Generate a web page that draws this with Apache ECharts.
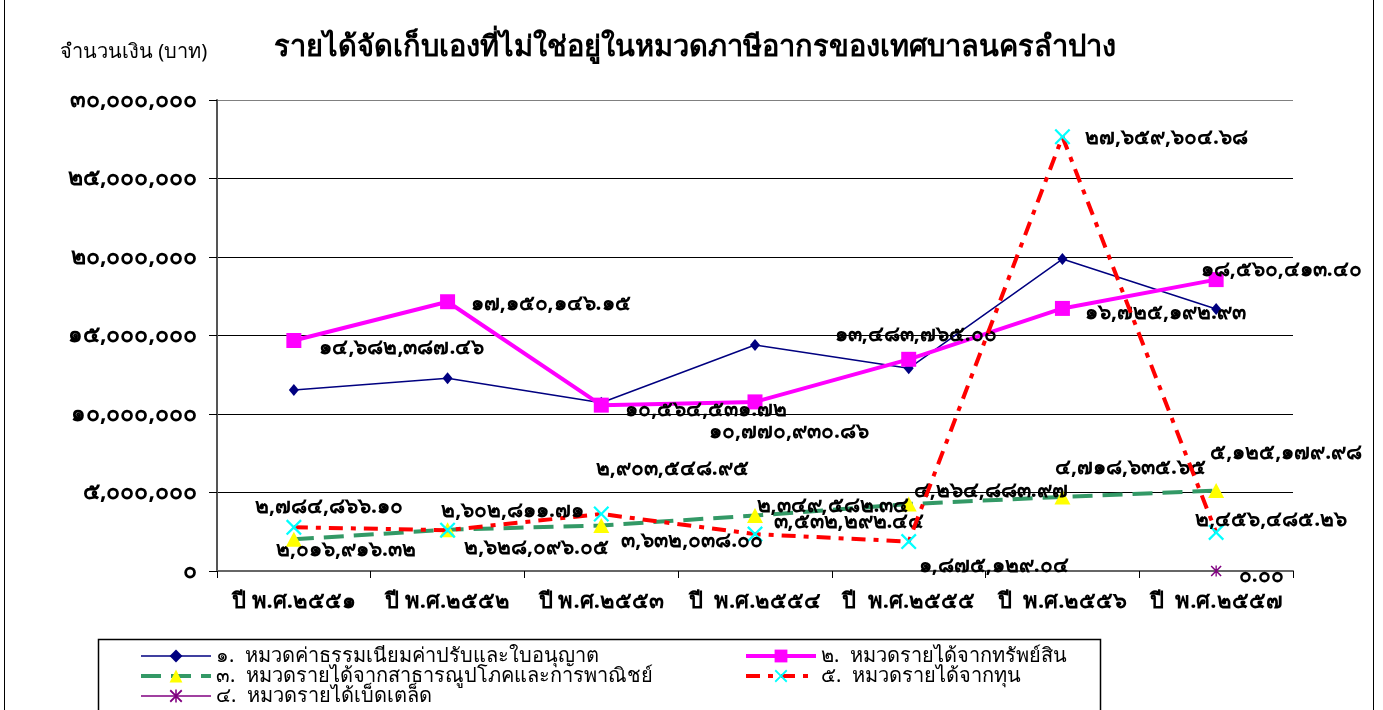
<!DOCTYPE html>
<html>
<head>
<meta charset="utf-8">
<script src="https://cdn.jsdelivr.net/npm/echarts@6/dist/echarts.min.js"></script>
<style>
  html, body { margin: 0; padding: 0; background: #fff; }
  #chart { width: 1383px; height: 710px; }
</style>
</head>
<body>
<div id="chart"></div>
<script>
// ข้อมูล
const years = ['ปี พ.ศ.๒๕๕๑', 'ปี พ.ศ.๒๕๕๒', 'ปี พ.ศ.๒๕๕๓', 'ปี  พ.ศ.๒๕๕๔', 'ปี  พ.ศ.๒๕๕๕', 'ปี  พ.ศ.๒๕๕๖', 'ปี  พ.ศ.๒๕๕๗'];
const feeValues = [11530000, 12270000, 10720000, 14390000, 12910000, 19870000, 16690000];
const propertyValues = [14682387.46, 17150146.15, 10564531.72, 10770930.86, 13483765.00, 16725192.93, 18560413.40];
const utilityValues = [2016916.32, 2628096.05, 2903548.95, 3532292.44, 4264883.97, 4718635.65, 5125179.98];
const miscValues = [null, null, null, null, null, null, 0.00];
const capitalValues = [2784866.10, 2602811.71, 3632038.00, 2349582.34, 1875129.04, 27659604.68, 2456485.26];
const seriesNames = [
  '๑.  หมวดค่าธรรมเนียมค่าปรับและใบอนุญาต',
  '๒.  หมวดรายได้จากทรัพย์สิน',
  '๓.  หมวดรายได้จากสาธารณูปโภคและการพาณิชย์',
  '๔.  หมวดรายได้เบ็ดเตล็ด',
  '๕.  หมวดรายได้จากทุน'
];
const yTicks = [0, 5000000, 10000000, 15000000, 20000000, 25000000, 30000000];

// ตำแหน่งป้ายข้อมูล (dx, dy จากจุด)
const propertyLabelPos = [[108, 8], [103, 2], [105, 5], [34, 30], [7, -24], [103, 5], [65, -10]];
const utilityLabelPos = [[52, 11], [89, 18], [71, -56], [94, 6], [82, -13], [68, -29], [70, -38]];
const capitalLabelPos = [[35, -20], [65, -19], [91, 27], [78, -28], [85, 24], [104, 1], [55, -12]];
const miscLabelPos = [null, null, null, null, null, null, [45, 5]];

const thaiDigits = '๐๑๒๓๔๕๖๗๘๙';
const toThai = (s) => String(s).replace(/[0-9]/g, (d) => thaiDigits[d]);
const money = (v) => toThai(v.toLocaleString('en-US', { minimumFractionDigits: 2, maximumFractionDigits: 2 }));

const FONT = "'Noto Sans', 'DejaVu Sans', sans-serif";

function withLabels(values, pos) {
  return values.map((v, i) => {
    if (v === null) return null;
    if (!pos[i]) return v;
    return {
      value: v,
      label: {
        show: true,
        position: 'inside',
        align: 'center',
        verticalAlign: 'middle',
        offset: pos[i],
        formatter: () => money(v),
        color: '#000',
        fontSize: 21,
        fontWeight: 'bold',
        fontFamily: FONT
      }
    };
  });
}

const xSymbol = 'path://M0,1L1,0L5,4L9,0L10,1L6,5L10,9L9,10L5,6L1,10L0,9L4,5Z';
const starSymbol = 'path://M0,1L1,0L5,4L9,0L10,1L6,5L10,9L9,10L5,6L1,10L0,9L4,5Z M4.4,0H5.6V10H4.4Z';

const legendCommon = {
  orient: 'vertical', top: 641, height: 100, itemGap: 0,
  itemWidth: 70, itemHeight: 16,
  lineStyle: { width: 'inherit', type: 'inherit' },
  textStyle: { fontSize: 20, color: '#000', fontFamily: FONT }
};

const chart = echarts.init(document.getElementById('chart'));
const option = {
  animation: false,
  backgroundColor: '#fff',
  title: {
    text: 'รายได้จัดเก็บเองที่ไม่ใช่อยู่ในหมวดภาษีอากรของเทศบาลนครลำปาง',
    left: 690,
    top: 28,
    textAlign: 'center',
    textStyle: { fontSize: 29, fontWeight: 'bold', color: '#000', fontFamily: FONT }
  },
  graphic: [
    { type: 'rect', shape: { x: 4.5, y: -5, width: 1369, height: 800 }, style: { fill: 'none', stroke: '#000', lineWidth: 1 }, silent: true },
    { type: 'rect', shape: { x: 98.5, y: 639.5, width: 1002, height: 100 }, style: { fill: 'none', stroke: '#000', lineWidth: 1.5 }, silent: true },
    { type: 'text', left: 60, top: 42, style: { text: 'จำนวนเงิน (บาท)', fontSize: 20, fill: '#000', fontFamily: FONT } }
  ],
  legend: [
    Object.assign({ data: [seriesNames[0], seriesNames[2], seriesNames[3]], left: 134 }, legendCommon),
    Object.assign({ data: [seriesNames[1], seriesNames[4]], left: 739 }, legendCommon)
  ],
  grid: { left: 217, right: 90, top: 100, bottom: 139, containLabel: false },
  xAxis: {
    type: 'category',
    data: years,
    boundaryGap: true,
    axisLine: { lineStyle: { color: '#666', width: 2 } },
    axisTick: { show: true, length: 7, inside: false, lineStyle: { color: '#000' } },
    axisLabel: { fontSize: 22, fontWeight: 'bold', color: '#000', margin: 20, interval: 0, fontFamily: FONT },
    splitLine: { show: false }
  },
  yAxis: {
    type: 'value',
    min: yTicks[0],
    max: yTicks[yTicks.length - 1],
    interval: yTicks[1] - yTicks[0],
    axisLine: { show: true, lineStyle: { color: '#555', width: 2 } },
    axisTick: { show: true, length: 8, lineStyle: { color: '#000' } },
    axisLabel: {
      fontSize: 23, fontWeight: 'bold', color: '#000', margin: 20, fontFamily: FONT,
      formatter: (v) => toThai(v.toLocaleString('en-US'))
    },
    splitLine: { show: true, lineStyle: { color: ['#000', '#000', '#000', '#000', '#000', '#000', '#808080'], width: 1 } }
  },
  series: [
    {
      name: seriesNames[0], type: 'line', data: feeValues,
      symbol: 'diamond', symbolSize: [10, 12],
      itemStyle: { color: '#000080' },
      lineStyle: { color: '#000080', width: 1.5 },
      z: 2
    },
    {
      name: seriesNames[1], type: 'line', data: withLabels(propertyValues, propertyLabelPos),
      symbol: 'rect', symbolSize: 15,
      itemStyle: { color: '#FF00FF' },
      lineStyle: { color: '#FF00FF', width: 4 },
      z: 3
    },
    {
      name: seriesNames[2], type: 'line', data: withLabels(utilityValues, utilityLabelPos),
      symbol: 'triangle', symbolSize: [16, 15],
      itemStyle: { color: '#FFFF00' },
      lineStyle: { color: '#339966', width: 4, type: [20, 10] },
      z: 4
    },
    {
      name: seriesNames[3], type: 'line', data: withLabels(miscValues, miscLabelPos),
      symbol: starSymbol, symbolSize: 11,
      itemStyle: { color: '#800080' },
      lineStyle: { color: '#800080', width: 1.5 },
      z: 5
    },
    {
      name: seriesNames[4], type: 'line', data: withLabels(capitalValues, capitalLabelPos),
      symbol: xSymbol, symbolSize: 16,
      itemStyle: { color: '#00FFFF' },
      lineStyle: { color: '#FF0000', width: 4, type: [14, 8, 5, 8] },
      z: 6
    }
  ]
};
chart.setOption(option);
</script>
</body>
</html>
